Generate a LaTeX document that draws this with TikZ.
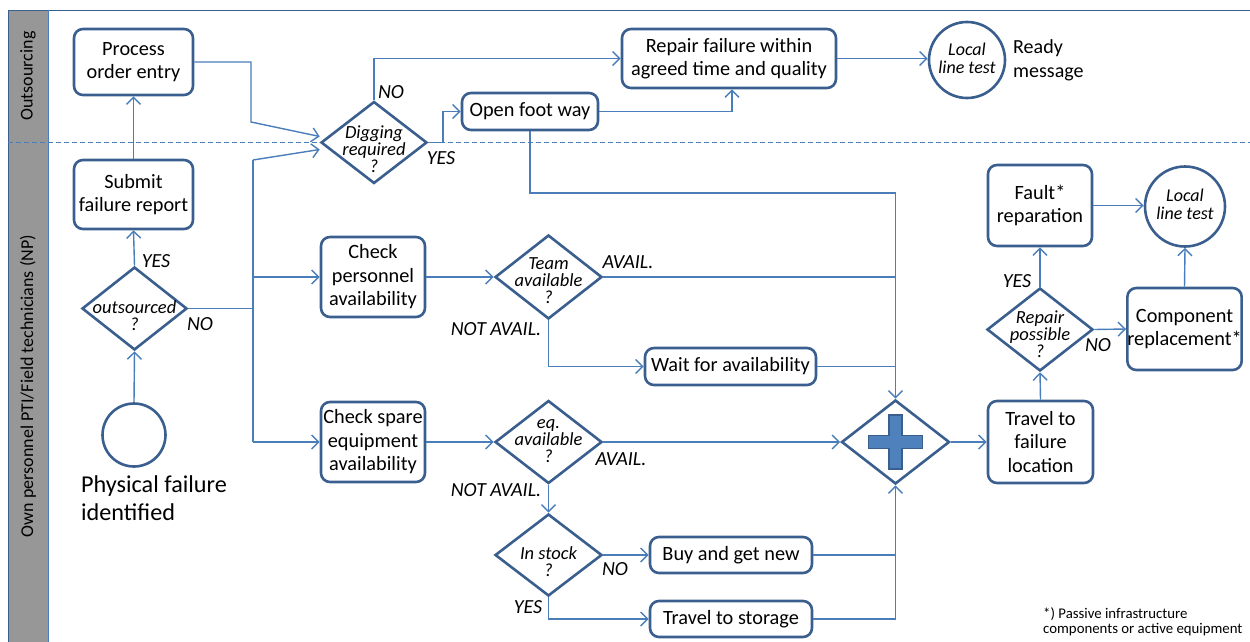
\documentclass[tikz,border=0pt]{standalone}
\usepackage{fontspec}
\setmainfont{Carlito}
\usetikzlibrary{arrows.meta,shapes.geometric}
\definecolor{boxc}{HTML}{3A5F8E}
\definecolor{linec}{HTML}{4A7EBB}
\definecolor{lanegray}{HTML}{979797}
\definecolor{plusc}{HTML}{4F81BD}
\begin{document}
\begin{tikzpicture}[x=1pt,y=-1pt,
 box/.style={draw=boxc,line width=2.6pt,rounded corners=9pt,fill=white,align=center,inner sep=0pt,font=\fontsize{20.3}{23.5}\selectfont},
 dia/.style={draw=boxc,line width=2.6pt,diamond,inner sep=0pt,fill=white},
 dtext/.style={align=center,inner sep=0pt,font=\fontsize{18.5}{17}\selectfont\itshape},
 circ/.style={draw=boxc,line width=2.6pt,circle,inner sep=0pt,fill=white},
 conn/.style={draw=linec,line width=1.4pt,-{Straight Barb[length=7pt,width=14pt]}},
 plain/.style={draw=linec,line width=1.4pt},
 lbl/.style={font=\fontsize{20}{22}\selectfont\itshape,inner sep=0pt},
 lane/.style={rotate=90,font=\fontsize{18}{20}\selectfont,inner sep=0pt},
]
\useasboundingbox (0,0) rectangle (1250,642);
% lanes
\fill[lanegray] (8,10) rectangle (48,642);
\draw[boxc,line width=0.8pt] (8,642) -- (8,10) -- (1250,10);
\draw[linec,line width=1pt] (48,10) -- (48,642);
\draw[linec,line width=1pt,dash pattern=on 5pt off 3pt] (8,142) -- (1250,142);
\node[lane] (lout) at (28,76) {Outsourcing};
\node[lane] (lown) at (28,386) {Own personnel PTI/Field technicians (NP)};

% nodes
\node[box,minimum width=119pt,minimum height=66pt] (poe) at (133.5,62) {Process\\order entry};
\node[box,minimum width=119pt,minimum height=69pt] (sfr) at (133.5,194.5) {Submit\\failure report};
\node[dia,minimum width=105pt,minimum height=83pt] (outs) at (134.5,308.5) {};
\node[dtext] (outst) at (134.5,316) {outsourced\\?};
\node[circ,minimum size=63pt] (start) at (134,435) {};
\node[font=\fontsize{24.2}{28}\selectfont,align=left,anchor=north west,inner sep=0pt] (startl) at (81,475) {Physical failure\\identified};

\node[dia,minimum width=106pt,minimum height=82pt] (dig) at (374,142.5) {};
\node[dtext] (digt) at (374,149) {Digging\\required\\?};
\node[box,minimum width=136pt,minimum height=37pt] (ofw) at (530,111.5) {Open foot way};
\node[box,minimum width=214pt,minimum height=59pt] (rep) at (729,58.5) {Repair failure within\\agreed time and quality};
\node[circ,minimum size=76pt] (llt1) at (967,60) {};
\node[dtext,font=\fontsize{18}{18}\selectfont\itshape] (llt1t) at (967,58) {Local\\line test};
\node[font=\fontsize{20}{24}\selectfont,align=left,anchor=west,inner sep=0pt] (ready) at (1013,60) {Ready\\message};

\node[box,minimum width=104pt,minimum height=80pt] (cpa) at (373,277) {Check\\personnel\\availability};
\node[dia,minimum width=107pt,minimum height=84pt] (team) at (548.5,277) {};
\node[dtext] (teamt) at (548.5,281) {Team\\available\\?};
\node[box,minimum width=171pt,minimum height=37pt] (wait) at (730.5,366.5) {Wait for availability};

\node[box,minimum width=104pt,minimum height=80pt] (cse) at (373,442) {Check spare\\equipment\\availability};
\node[dia,minimum width=107pt,minimum height=83pt] (eq) at (548.5,442) {};
\node[dtext] (eqt) at (548.5,441) {eq.\\available\\?};
\node[dia,minimum width=107pt,minimum height=82pt] (ins) at (548.5,555) {};
\node[dtext] (inst) at (548.5,562) {In stock\\?};
\node[box,minimum width=162pt,minimum height=36pt] (buy) at (731,555) {Buy and get new};
\node[box,minimum width=162pt,minimum height=36pt] (tts) at (731,619) {Travel to storage};

\node[dia,minimum width=108pt,minimum height=84pt] (plus) at (895.5,442) {};
\begin{scope}[shift={(plus.center)}]
\filldraw[fill=plusc,draw=boxc,line width=1.5pt]
 (-27,-6.5) -- (-6.5,-6.5) -- (-6.5,-27) -- (6.5,-27) -- (6.5,-6.5) -- (27,-6.5)
 -- (27,6.5) -- (6.5,6.5) -- (6.5,27) -- (-6.5,27) -- (-6.5,6.5) -- (-27,6.5) -- cycle;
\end{scope}
\node[box,minimum width=105pt,minimum height=82pt] (tfl) at (1040.5,442) {Travel to\\failure\\location};
\node[dia,minimum width=106pt,minimum height=83pt] (rp) at (1040,329.5) {};
\node[dtext] (rpt) at (1040,334) {Repair\\possible\\?};
\node[box,minimum width=104pt,minimum height=81pt] (fault) at (1040,205.5) {Fault*\\reparation};
\node[circ,minimum size=80pt] (llt2) at (1185,206.5) {};
\node[dtext,font=\fontsize{18}{18}\selectfont\itshape] (llt2t) at (1185,204) {Local\\line test};
\node[box,minimum width=111pt,minimum height=82pt] (comp) at (1184.5,329) {Component\\replacement*};

\node[font=\fontsize{14.8}{15}\selectfont,align=left,anchor=north west,inner sep=0pt] (foot) at (1043,607) {*) Passive infrastructure\\components or active equipment};

% connectors
\coordinate (bustop) at (253,160);
\coordinate (busbot) at (253,442);
\draw[conn] (start.north) -- (outs.south);
\draw[conn] (outs.north) -- (sfr.south);
\draw[conn] (sfr.north) -- (poe.south);
\draw[conn] (poe.east) -| (251,122) -- ([yshift=6pt]dig.west);
\draw[plain] (outs.east) -- (outs.east -| bustop);
\draw[plain] (bustop) -- (busbot);
\draw[conn] (bustop) -- ([yshift=-7pt]dig.west);
\draw[conn] (bustop |- cpa.west) -- (cpa.west);
\draw[conn] (busbot) -- (cse.west);

\draw[conn] (dig.north) |- (rep.west);
\draw[conn] (dig.east) -- (443,142.5) |- (ofw.west);
\draw[conn] (ofw.east) -| ([xshift=3pt]rep.south);
\draw[conn] (ofw.south) -- (ofw.south |- 0,193) -| (plus.north);
\draw[conn] (rep.east) -- (rep.east -| llt1.west);

\draw[conn] (cpa.east) -- (team.west);
\draw[plain] (team.east) -- (team.east -| plus.north);
\draw[conn] (team.south) |- (wait.west);
\draw[plain] (wait.east) -- (wait.east -| plus.north);

\draw[conn] (cse.east) -- (eq.west);
\draw[conn] (eq.east) -- (plus.west);
\draw[conn] (eq.south) -- (ins.north);
\draw[conn] (ins.east) -- (buy.west);
\draw[conn] (ins.south) |- (tts.west);
\draw[conn] (buy.east) -| (plus.south);
\draw[plain] (tts.east) -| (buy.east -| plus.south);

\draw[conn] (plus.east) -- (tfl.west);
\draw[conn] (tfl.north) -- (rp.south);
\draw[conn] (rp.north) -- (fault.south);
\draw[conn] (rp.east) -- (comp.west);
\draw[conn] (fault.east) -- (fault.east -| llt2.west);
\draw[conn] (comp.north) -- (llt2.south);

% labels
\node[lbl] (l1) at (156,261) {YES};
\node[lbl] (l2) at (200,324) {NO};
\node[lbl] (l3) at (391,92) {NO};
\node[lbl] (l4) at (441,158) {YES};
\node[lbl] (l5) at (628,262) {AVAIL.};
\node[lbl] (l6) at (496,329) {NOT AVAIL.};
\node[lbl] (l7) at (621,459) {AVAIL.};
\node[lbl] (l8) at (496,490) {NOT AVAIL.};
\node[lbl] (l9) at (615,569) {NO};
\node[lbl] (l10) at (528,607) {YES};
\node[lbl] (l11) at (1017,281) {YES};
\node[lbl] (l12) at (1098,345) {NO};
\end{tikzpicture}
\end{document}
